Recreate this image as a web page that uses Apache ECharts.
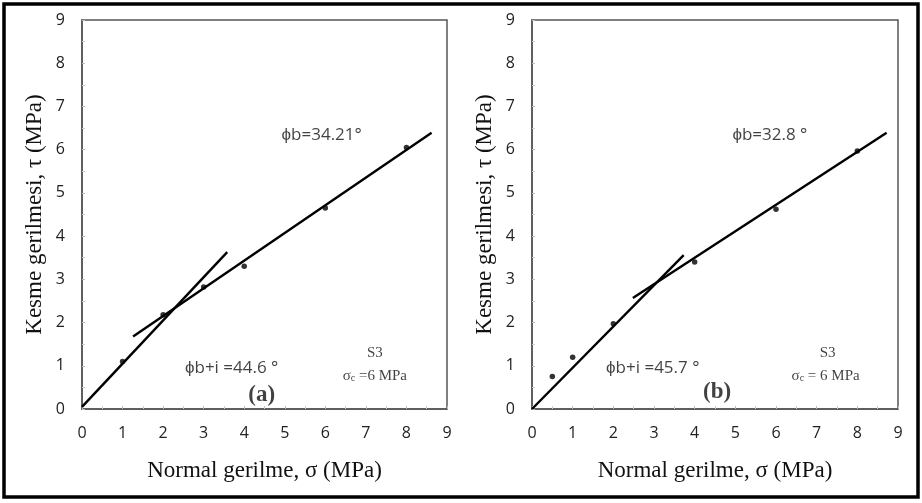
<!DOCTYPE html>
<html>
<head>
<meta charset="utf-8">
<script src="https://cdn.jsdelivr.net/npm/echarts@6/dist/echarts.min.js"></script>
<style>
  html, body { margin: 0; padding: 0; background: #fff; }
  #chart { width: 922px; height: 503px; }
</style>
</head>
<body>
<div id="chart"></div>
<script>
// tick labels 0..9 on both axes
const ticks = [0, 1, 2, 3, 4, 5, 6, 7, 8, 9];

// panel (a) measured points
const sigmaA = [1, 2, 3, 4, 6, 8];
const tauA = [1.1, 2.18, 2.82, 3.3, 4.65, 6.05];
// panel (b) measured points
const sigmaB = [0.5, 1, 2, 4, 6, 8];
const tauB = [0.75, 1.2, 1.97, 3.4, 4.62, 5.97];

// fitted envelopes (start / end)
const peakLineA = [[0, 0.05], [3.58, 3.63]];
const residLineA = [[1.26, 1.68], [8.62, 6.39]];
const peakLineB = [[0, 0], [3.73, 3.56]];
const residLineB = [[2.48, 2.57], [8.72, 6.39]];

// annotation texts and where they sit (data units)
const notesA = [
  { text: 'ϕb=34.21°', at: [5.91, 6.34], kind: 'phi' },
  { text: 'ϕb+i =44.6 °', at: [3.69, 0.95], kind: 'phi' },
  { text: '(a)', at: [4.43, 0.32], kind: 'tag' },
  { text: 'S3', at: [7.22, 1.3], kind: 'serif' },
  { text: '{s|σ}{sub|c}{s| =6 MPa}', at: [7.22, 0.76], kind: 'serif' }
];
const notesB = [
  { text: 'ϕb=32.8 °', at: [5.85, 6.34], kind: 'phi' },
  { text: 'ϕb+i =45.7 °', at: [2.97, 0.95], kind: 'phi' },
  { text: '(b)', at: [4.55, 0.39], kind: 'tag' },
  { text: 'S3', at: [7.27, 1.3], kind: 'serif' },
  { text: '{s|σ}{sub|c}{s| = 6 MPa}', at: [7.22, 0.76], kind: 'serif' }
];

const sansFont = '"Open Sans", "Liberation Sans", sans-serif';
const serifFont = '"Liberation Serif", "DejaVu Serif", serif';

function zip(xs, ys) {
  return xs.map((x, i) => [x, ys[i]]);
}

function noteStyle(kind) {
  if (kind === 'tag') {
    return { fontFamily: serifFont, fontSize: 23, fontWeight: 'bold', color: '#111' };
  }
  if (kind === 'serif') {
    return {
      fontFamily: serifFont, fontSize: 15, color: '#111',
      rich: {
        s: { fontFamily: serifFont, fontSize: 15, color: '#111' },
        sub: { fontFamily: serifFont, fontSize: 10, color: '#111', padding: [5, 0, 0, 0] }
      }
    };
  }
  return { fontFamily: sansFont, fontSize: 17, color: '#111' };
}

function noteSeries(notes, idx) {
  return {
    type: 'scatter',
    xAxisIndex: idx, yAxisIndex: idx,
    symbol: 'circle',
    symbolSize: 1,
    itemStyle: { color: 'rgba(0,0,0,0)' },
    silent: true,
    z: 5,
    data: notes.map(n => ({
      value: n.at,
      label: Object.assign({
        show: true, position: 'inside', formatter: n.text
      }, noteStyle(n.kind))
    }))
  };
}

function lineSeries(pts, idx) {
  return {
    type: 'line',
    xAxisIndex: idx, yAxisIndex: idx,
    data: pts,
    symbol: 'none',
    lineStyle: { color: '#000', width: 2.4 },
    z: 3
  };
}

function pointSeries(pts, idx) {
  return {
    type: 'scatter',
    xAxisIndex: idx, yAxisIndex: idx,
    data: pts,
    symbol: 'circle',
    symbolSize: 5.5,
    itemStyle: { color: '#000' },
    z: 4
  };
}

function makeAxis(idx, isX) {
  return {
    type: 'value',
    gridIndex: idx,
    min: ticks[0], max: ticks[ticks.length - 1], interval: 1,
    name: isX ? 'Normal gerilme, σ (MPa)' : 'Kesme gerilmesi, τ (MPa)',
    nameLocation: 'middle',
    nameGap: isX ? 50 : 36,
    nameTextStyle: { fontFamily: serifFont, fontSize: 23, color: '#111' },
    axisLine: { show: true, lineStyle: { color: '#555', width: 1.5 } },
    axisTick: { show: true, inside: true, length: 3, lineStyle: { color: '#bbb' } },
    minorTick: { show: true, splitNumber: 2, length: 3, lineStyle: { color: '#ccc' } },
    splitLine: { show: false },
    axisLabel: {
      fontFamily: sansFont, fontSize: 16, color: '#222',
      margin: isX ? 16 : 17
    }
  };
}

const chart = echarts.init(document.getElementById('chart'));
chart.setOption({
  animation: false,
  backgroundColor: '#fff',
  graphic: [{
    type: 'rect',
    shape: { x: 4, y: 4, width: 914, height: 493 },
    style: { fill: 'none', stroke: '#000', lineWidth: 3.5 }
  }],
  grid: [
    { left: 82, top: 20, width: 365, height: 389, show: true, borderColor: '#555', borderWidth: 1.5 },
    { left: 532, top: 20, width: 366, height: 389, show: true, borderColor: '#555', borderWidth: 1.5 }
  ],
  xAxis: [makeAxis(0, true), makeAxis(1, true)],
  yAxis: [makeAxis(0, false), makeAxis(1, false)],
  series: [
    lineSeries(peakLineA, 0),
    lineSeries(residLineA, 0),
    pointSeries(zip(sigmaA, tauA), 0),
    noteSeries(notesA, 0),
    lineSeries(peakLineB, 1),
    lineSeries(residLineB, 1),
    pointSeries(zip(sigmaB, tauB), 1),
    noteSeries(notesB, 1)
  ]
});
</script>
</body>
</html>
